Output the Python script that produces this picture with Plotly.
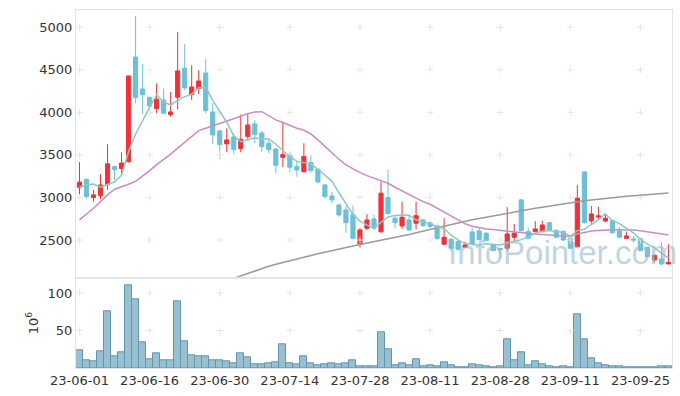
import plotly.graph_objects as go
from plotly.subplots import make_subplots

# ---------------- data ----------------
dates = [
    "23-06-01","23-06-02","23-06-05","23-06-07","23-06-08","23-06-09","23-06-12","23-06-13","23-06-14","23-06-15",
    "23-06-16","23-06-19","23-06-20","23-06-21","23-06-22","23-06-23","23-06-26","23-06-27","23-06-28","23-06-29",
    "23-06-30","23-07-03","23-07-04","23-07-05","23-07-06","23-07-07","23-07-10","23-07-11","23-07-12","23-07-13",
    "23-07-14","23-07-17","23-07-18","23-07-19","23-07-20","23-07-21","23-07-24","23-07-25","23-07-26","23-07-27",
    "23-07-28","23-07-31","23-08-01","23-08-02","23-08-03","23-08-04","23-08-07","23-08-08","23-08-09","23-08-10",
    "23-08-11","23-08-14","23-08-16","23-08-17","23-08-18","23-08-21","23-08-22","23-08-23","23-08-24","23-08-25",
    "23-08-28","23-08-29","23-08-30","23-08-31","23-09-01","23-09-04","23-09-05","23-09-06","23-09-07","23-09-08",
    "23-09-11","23-09-12","23-09-13","23-09-14","23-09-15","23-09-18","23-09-19","23-09-20","23-09-21","23-09-22",
    "23-09-25","23-09-26","23-09-27","23-10-04","23-10-05",
]

opens = [3120,3215,2998,3020,3150,3362,3340,3420,4650,4275,
         4177,4044,4146,3973,4177,4518,4208,4280,4463,4005,
         3782,3629,3711,3574,3715,3864,3758,3637,3570,3472,
         3503,3362,3303,3409,3332,3147,3018,2912,2853,2800,
         2455,2638,2748,2598,2998,2756,2665,2736,2697,2736,
         2700,2665,2450,2509,2481,2415,2595,2607,2580,2442,
         2400,2403,2532,2971,2598,2598,2598,2704,2610,2600,
         2521,2420,3300,2724,2770,2722,2727,2607,2521,2512,
         2515,2415,2266,2277,2219]
highs = [3415,3220,3088,3275,3625,3375,3530,4430,5133,4565,
         4185,4340,4280,4240,4945,4800,4553,4495,4624,4110,
         3790,3813,3755,3975,3985,3907,3782,3684,3575,3872,
         3538,3417,3637,3496,3340,3155,3068,2925,2900,2905,
         2638,2803,2795,3186,3323,2795,2950,2790,2950,2748,
         2725,2680,2756,2525,2500,2480,2645,2645,2590,2450,
         2405,2885,2690,2980,2640,2722,2727,2712,2630,2615,
         2535,3145,3305,2900,2890,2795,2740,2655,2598,2548,
         2530,2420,2325,2470,2450]
lows = [3040,2985,2950,2980,3090,3205,3275,3410,4107,3980,
        3975,3990,3980,3950,4035,4263,4146,4215,3990,3625,
        3450,3530,3508,3531,3685,3637,3538,3520,3285,3355,
        3296,3245,3292,3292,3167,2990,2932,2775,2587,2518,
        2410,2615,2618,2580,2800,2638,2630,2605,2625,2655,
        2640,2500,2440,2365,2380,2410,2435,2495,2485,2370,
        2285,2365,2480,2600,2510,2590,2590,2610,2520,2485,
        2395,2415,2695,2690,2740,2712,2575,2522,2509,2470,
        2370,2300,2235,2207,2215]
closes = [3180,3010,3030,3147,3395,3327,3405,4428,4173,4208,
          4075,4154,3990,4005,4487,4287,4298,4369,4020,3735,
          3621,3676,3562,3684,3852,3738,3597,3562,3378,3503,
          3355,3323,3480,3315,3182,3010,2971,2795,2704,2520,
          2618,2736,2638,3050,2810,2704,2767,2618,2786,2669,
          2660,2520,2532,2403,2392,2442,2450,2505,2495,2375,
          2385,2571,2580,2610,2521,2630,2677,2618,2532,2500,
          2403,2991,2704,2806,2783,2756,2586,2532,2548,2500,
          2375,2305,2321,2219,2236]

# trading volume, millions of shares
volumes = [23,10,8.5,22,75.7,15.3,20.7,110,91,34,
           11.3,19.4,10,10,89.6,35.6,16.7,15.3,15.3,10.8,
           10,8.6,5.9,19.4,14,4.5,4.5,5.9,7.2,31.5,
           5.9,4.5,15.3,5.9,3.2,4.5,5.9,4.5,6.8,10.8,
           2.7,2.7,2.7,47.3,24.3,4,6.8,4,12.2,2.7,
           4,2.7,8.1,4,1.4,1.4,5.4,4,2.7,1.4,
           2.7,37.8,10.8,21.6,4,9.5,5.4,2.7,1.4,2.7,
           1.4,71.6,37.8,13.5,6.8,4,2.7,2.7,1.4,1.4,
           1.4,1.4,0.3,2.7,2.7]

ma5 = [3120,3148,3157,3120,3152,3182,3261,3540,3746,3908,
       4058,4208,4120,4086,4142,4185,4213,4289,4292,4142,
       4009,3884,3723,3656,3679,3702,3687,3687,3625,3556,
       3479,3424,3408,3395,3331,3262,3192,3055,2932,2800,
       2722,2675,2643,2712,2770,2788,2794,2790,2737,2709,
       2700,2651,2633,2557,2501,2458,2444,2438,2457,2453,
       2442,2466,2481,2504,2533,2582,2604,2611,2596,2591,
       2546,2609,2626,2681,2737,2808,2727,2693,2641,2584,
       2508,2452,2410,2344,2291]

ma20 = [2736,2802,2873,2951,3030,3096,3123,3155,3190,3250,
        3315,3385,3445,3510,3580,3650,3725,3785,3813,3840,
        3868,3895,3925,3955,3985,4003,4008,3958,3911,3880,
        3844,3813,3790,3746,3676,3597,3520,3449,3382,3335,
        3292,3256,3226,3202,3167,3120,3077,3033,2991,2951,
        2920,2873,2822,2775,2730,2690,2662,2642,2630,2622,
        2615,2605,2595,2585,2578,2570,2565,2558,2550,2545,
        2540,2570,2590,2605,2612,2618,2620,2620,2620,2618,
        2610,2598,2588,2575,2560]

ma60 = [None]*21 + [2020,2050,2080,2110,2140,2168,2192,2215,2237,
        2258,2277,2298,2318,2338,2358,2377,2395,2413,2430,
        2447,2463,2478,2493,2510,2527,2545,2565,2585,2605,
        2625,2645,2665,2685,2705,2722,2737,2752,2768,2783,
        2798,2813,2828,2843,2858,2872,2886,2900,2912,2925,
        2937,2950,2960,2970,2980,2990,2998,3006,3013,3020,
        3027,3034,3040,3046,3052]

tick_labels = ["23-06-01","23-06-16","23-06-30","23-07-14","23-07-28",
               "23-08-11","23-08-28","23-09-11","23-09-25"]
price_ticks = [2500, 3000, 3500, 4000, 4500, 5000]
volume_ticks = [50, 100]

# ---------------- style ----------------
RED = "#ee3238"
BLUE = "#6cc0d8"
TEAL = "#8ccac1"
PINK = "#c98cc6"
GRAY = "#9a9a9a"
GRID = "#e6e6e6"
BORDER = "#e4e4e4"
FONT = "DejaVu Sans"

fig = make_subplots(rows=2, cols=1, shared_xaxes=True, vertical_spacing=0,
                    row_heights=[0.7494, 0.2506])

fig.add_trace(go.Candlestick(
    x=dates, open=opens, high=highs, low=lows, close=closes,
    increasing=dict(line=dict(color=RED, width=1), fillcolor=RED),
    decreasing=dict(line=dict(color=BLUE, width=1), fillcolor=BLUE),
    whiskerwidth=0, showlegend=False), row=1, col=1)

fig.add_trace(go.Bar(x=dates, y=volumes, marker=dict(color="#98c0d1",
                     line=dict(color="#6096ae", width=1)),
                     showlegend=False), row=2, col=1)

# grid crosses
gx = [t for t in tick_labels for _ in price_ticks]
gy = [p for _ in tick_labels for p in price_ticks]
fig.add_trace(go.Scatter(x=gx, y=gy, mode="markers", hoverinfo="skip",
                         marker=dict(symbol="cross-thin", size=5,
                                     line=dict(color=GRID, width=1)),
                         showlegend=False), row=1, col=1)
vx = [t for t in tick_labels for _ in volume_ticks]
vy = [p for _ in tick_labels for p in volume_ticks]
fig.add_trace(go.Scatter(x=vx, y=vy, mode="markers", hoverinfo="skip",
                         marker=dict(symbol="cross-thin", size=5,
                                     line=dict(color=GRID, width=1)),
                         showlegend=False), row=2, col=1)

fig.add_trace(go.Scatter(x=dates, y=ma60, mode="lines",
                         line=dict(color=GRAY, width=1.5), showlegend=False), row=1, col=1)
fig.add_trace(go.Scatter(x=dates, y=ma20, mode="lines",
                         line=dict(color=PINK, width=1.5), showlegend=False), row=1, col=1)
fig.add_trace(go.Scatter(x=dates, y=ma5, mode="lines",
                         line=dict(color=TEAL, width=1.5), showlegend=False), row=1, col=1)

fig.add_annotation(text="InfoPointer.com", xref="paper", yref="paper",
                   x=0.62, y=0.322, xanchor="left", yanchor="middle",
                   showarrow=False,
                   font=dict(family="Liberation Sans", size=33,
                             color="rgba(150,185,205,0.6)"))

axis_common = dict(showline=True, linecolor=BORDER, linewidth=1, mirror=True,
                   showgrid=False, zeroline=False, ticks="", automargin=False)

fig.update_xaxes(type="category", categoryorder="array", categoryarray=dates,
                 range=[-0.5, 84.5], **axis_common)
fig.update_xaxes(showticklabels=False, rangeslider=dict(visible=False), row=1, col=1)
fig.update_xaxes(tickvals=tick_labels, ticktext=tick_labels, tickangle=0,
                 tickfont=dict(family=FONT, size=13, color="#333"), row=2, col=1)

fig.update_yaxes(range=[2050, 5203], tickvals=price_ticks,
                 tickfont=dict(family=FONT, size=13, color="#333"),
                 row=1, col=1, **axis_common)
fig.update_yaxes(range=[0, 119.6], tickvals=volume_ticks,
                 tickfont=dict(family=FONT, size=13, color="#333"),
                 title=dict(text="10<sup>6</sup>", font=dict(family=FONT, size=13, color="#333"),
                            standoff=6),
                 row=2, col=1, **axis_common)

fig.update_layout(width=680, height=396, margin=dict(l=76, r=8, t=10, b=28),
                  paper_bgcolor="white", plot_bgcolor="white",
                  bargap=0, boxgap=0.15, hovermode=False,
                  font=dict(family=FONT, color="#333"))

fig.write_html("out.html", config={"displayModeBar": False},
               post_script="document.body.style.margin='0';")
